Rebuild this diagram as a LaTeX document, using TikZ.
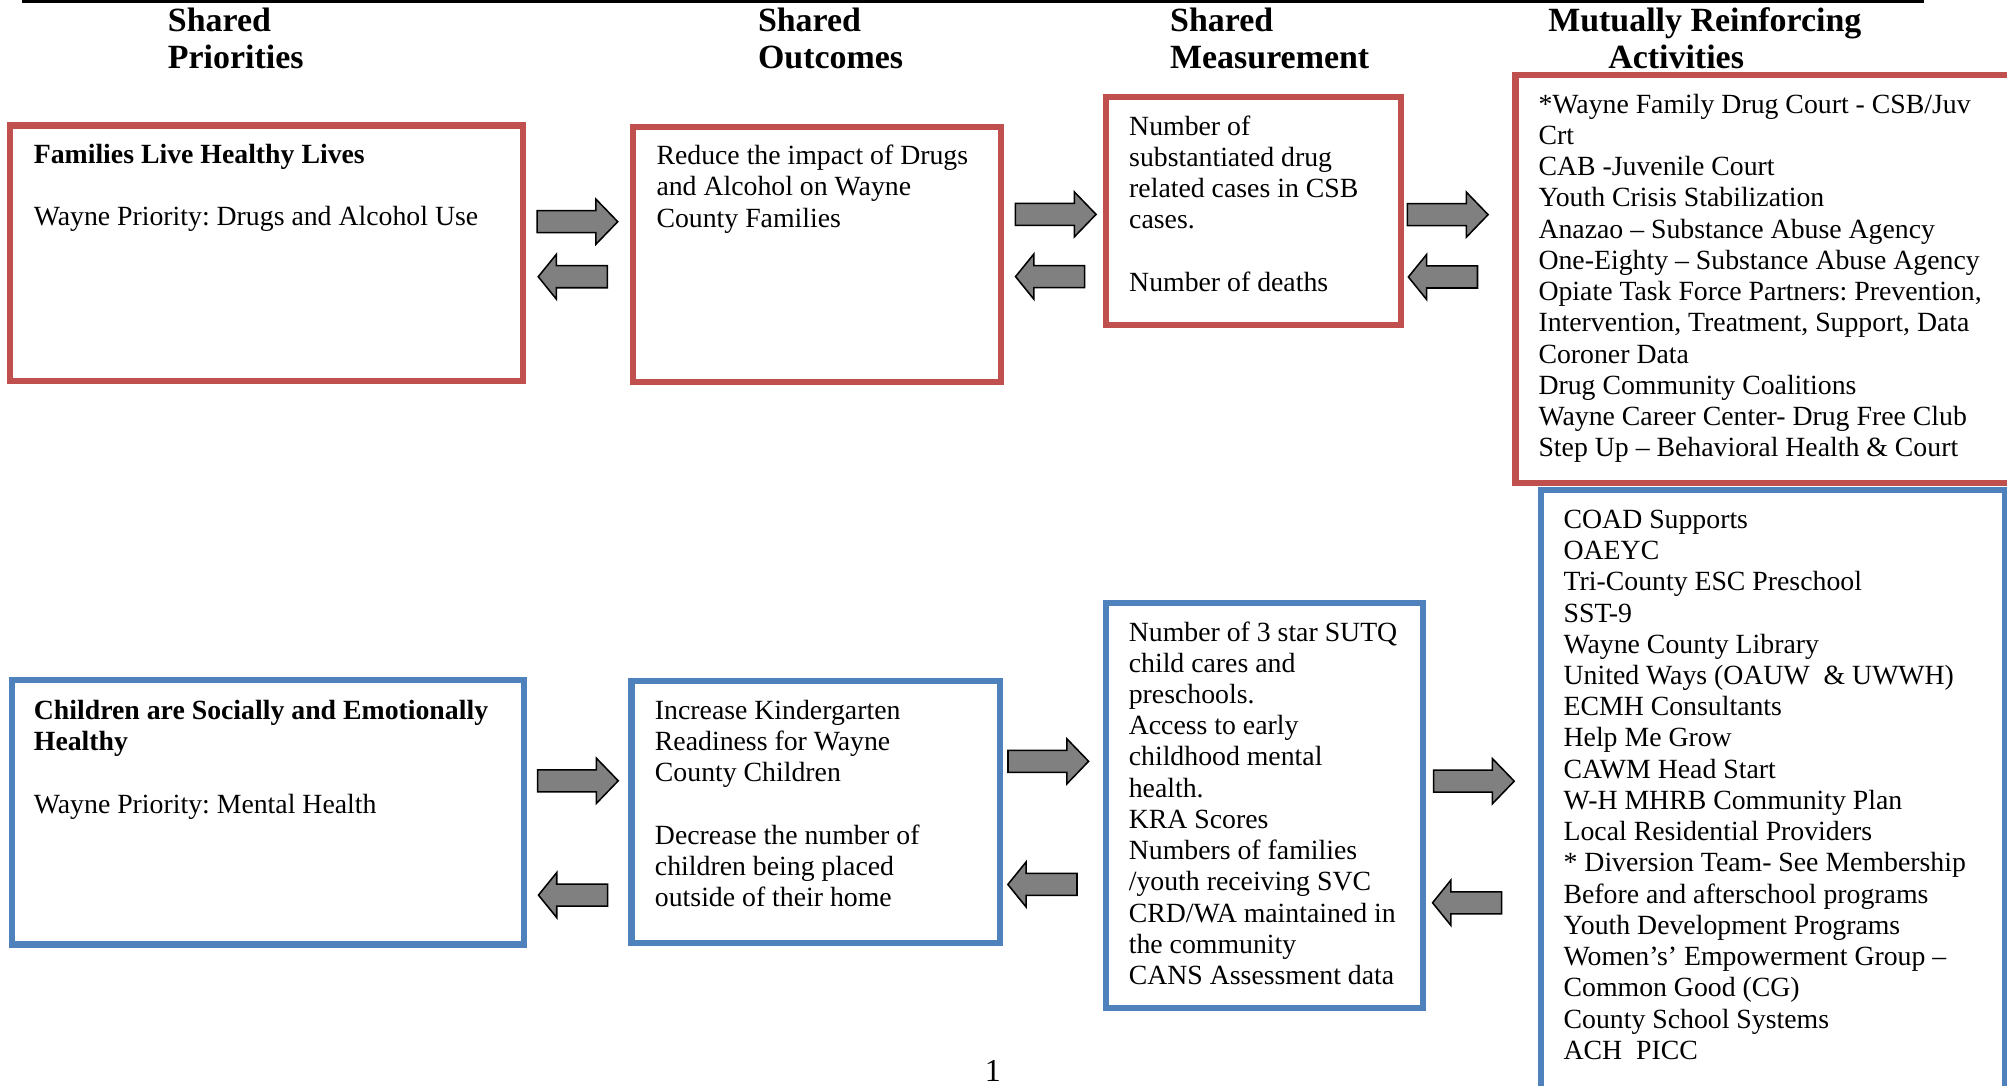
\documentclass[tikz,border=0pt]{standalone}
\usepackage{fontspec}
\setmainfont{Liberation Serif}
\usetikzlibrary{shapes.arrows}
\frenchspacing

\definecolor{boxred}{HTML}{C0504D}
\definecolor{boxblue}{HTML}{4F81BD}
\definecolor{arrowgray}{HTML}{808080}

\newcommand{\bodyfont}{\fontsize{21.7}{24.4}\selectfont}
\newcommand{\headfont}{\fontsize{26.5}{28.7}\selectfont\bfseries}
\newcommand{\lines}[1]{\begin{tabular}[t]{@{}l@{}}#1\end{tabular}}

\tikzset{
  box/.style={draw, line width=4.8pt, inner sep=0pt, outer sep=0pt, anchor=north west},
  redbox/.style={box, draw=boxred},
  bluebox/.style={box, draw=boxblue},
  boxtext/.style={anchor=base west, inner sep=0pt, font=\bodyfont},
  headtext/.style={anchor=base west, inner sep=0pt, font=\headfont},
  rarrow/.style={single arrow, draw=black, fill=arrowgray, line width=1.2pt,
    inner xsep=0pt, inner ysep=8pt, outer sep=0pt, minimum width=34pt,
    single arrow head extend=9pt, single arrow tip angle=92,
    minimum height=63pt, anchor=tail},
  larrow/.style={rarrow, shape border rotate=180, single arrow tip angle=102,
    minimum height=54pt}
}

\begin{document}
\begin{tikzpicture}[x=1pt, y=-1pt]
  \path[use as bounding box, clip] (0,0) rectangle (1568,848);

  % rule and column heads
  \draw[line width=3pt] (17.4,1) -- (1503,1);
  \node[headtext] (hp) at (131,24.7) {\lines{Shared\\Priorities}};
  \node[headtext] (ho) at (592,24.7) {\lines{Shared\\Outcomes}};
  \node[headtext] (hm) at (914,24.7) {\lines{Shared\\Measurement}};
  \node[headtext] (ha) at (1209.4,24.7) {\lines{Mutually Reinforcing\\\hspace*{46.9pt}Activities}};

  % drugs row
  \node[redbox, minimum width=401pt, minimum height=199.5pt] (p1) at (7.9,98) {};
  \node[redbox, minimum width=287.5pt, minimum height=199.5pt] (o1) at (494.5,99) {};
  \node[redbox, minimum width=230.5pt, minimum height=177.9pt] (m1) at (863.8,76) {};
  \node[redbox, minimum width=416pt, minimum height=318.7pt] (a1) at (1184,58.6) {};

  \node[boxtext] (p1t) at (26.2,127.6) {\lines{\textbf{Families Live Healthy Lives}\\ \\
    Wayne Priority: Drugs and Alcohol Use}};
  \node[boxtext] (o1t) at (512.7,128.6) {\lines{Reduce the impact of Drugs\\
    and Alcohol on Wayne\\County Families}};
  \node[boxtext] (m1t) at (882,105.5) {\lines{Number of\\substantiated drug\\
    related cases in CSB\\cases.\\ \\Number of deaths}};
  \node[boxtext] (a1t) at (1201.8,88.4) {\lines{*Wayne Family Drug Court - CSB/Juv\\Crt\\
    CAB -Juvenile Court\\Youth Crisis Stabilization\\
    Anazao – Substance Abuse Agency\\One-Eighty – Substance Abuse Agency\\
    Opiate Task Force Partners: Prevention,\\Intervention, Treatment, Support, Data\\
    Coroner Data\\Drug Community Coalitions\\Wayne Career Center- Drug Free Club\\
    Step Up – Behavioral Health \& Court}};

  \node[rarrow] (p1o1) at (419.6,173.2) {};
  \node[larrow] (o1p1) at (474.5,216.2) {};
  \node[rarrow] (o1m1) at (793.3,167.5) {};
  \node[larrow] (m1o1) at (847.4,216.1) {};
  \node[rarrow] (m1a1) at (1099.6,167.7) {};
  \node[larrow] (a1m1) at (1154.3,216.4) {};

  % mental health row
  \node[bluebox, minimum width=400.2pt, minimum height=206.4pt] (p2) at (9.3,531.5) {};
  \node[bluebox, minimum width=287.9pt, minimum height=205pt] (o2) at (493.4,532) {};
  \node[bluebox, minimum width=247.6pt, minimum height=317pt] (m2) at (863.8,470.8) {};
  \node[bluebox, minimum width=362.7pt, minimum height=487.4pt] (a2) at (1203.6,382.6) {};

  \node[boxtext] (p2t) at (26.3,562) {\lines{\textbf{Children are Socially and Emotionally}\\
    \textbf{Healthy}\\ \\Wayne Priority: Mental Health}};
  \node[boxtext] (o2t) at (511.5,562) {\lines{Increase Kindergarten\\Readiness for Wayne\\
    County Children\\ \\Decrease the number of\\children being placed\\
    outside of their home}};
  \node[boxtext] (m2t) at (881.7,500.8) {\lines{Number of 3 star SUTQ\\child cares and\\
    preschools.\\Access to early\\childhood mental\\health.\\KRA Scores\\
    Numbers of families\\/youth receiving SVC\\CRD/WA maintained in\\
    the community\\CANS Assessment data}};
  \node[boxtext] (a2t) at (1221.4,412.8) {\lines{COAD Supports\\OAEYC\\
    Tri-County ESC Preschool\\SST-9\\Wayne County Library\\
    United Ways (OAUW~~\& UWWH)\\ECMH Consultants\\Help Me Grow\\
    CAWM Head Start\\W-H MHRB Community Plan\\Local Residential Providers\\
    {}* Diversion Team- See Membership\\Before and afterschool programs\\
    Youth Development Programs\\Women’s’ Empowerment Group –\\
    Common Good (CG)\\County School Systems\\ACH~~PICC}};

  \node[rarrow] (p2o2) at (420,610) {};
  \node[larrow] (o2p2) at (474.7,699.3) {};
  \node[rarrow] (o2m2) at (787.5,594.8) {};
  \node[larrow] (m2o2) at (841.4,691) {};
  \node[rarrow] (m2a2) at (1120,610.3) {};
  \node[larrow] (a2m2) at (1173.2,705.3) {};

  % page number
  \node[anchor=base, inner sep=0pt, font=\fontsize{25}{30}\selectfont] (pg) at (775.6,845) {1};
\end{tikzpicture}
\end{document}
